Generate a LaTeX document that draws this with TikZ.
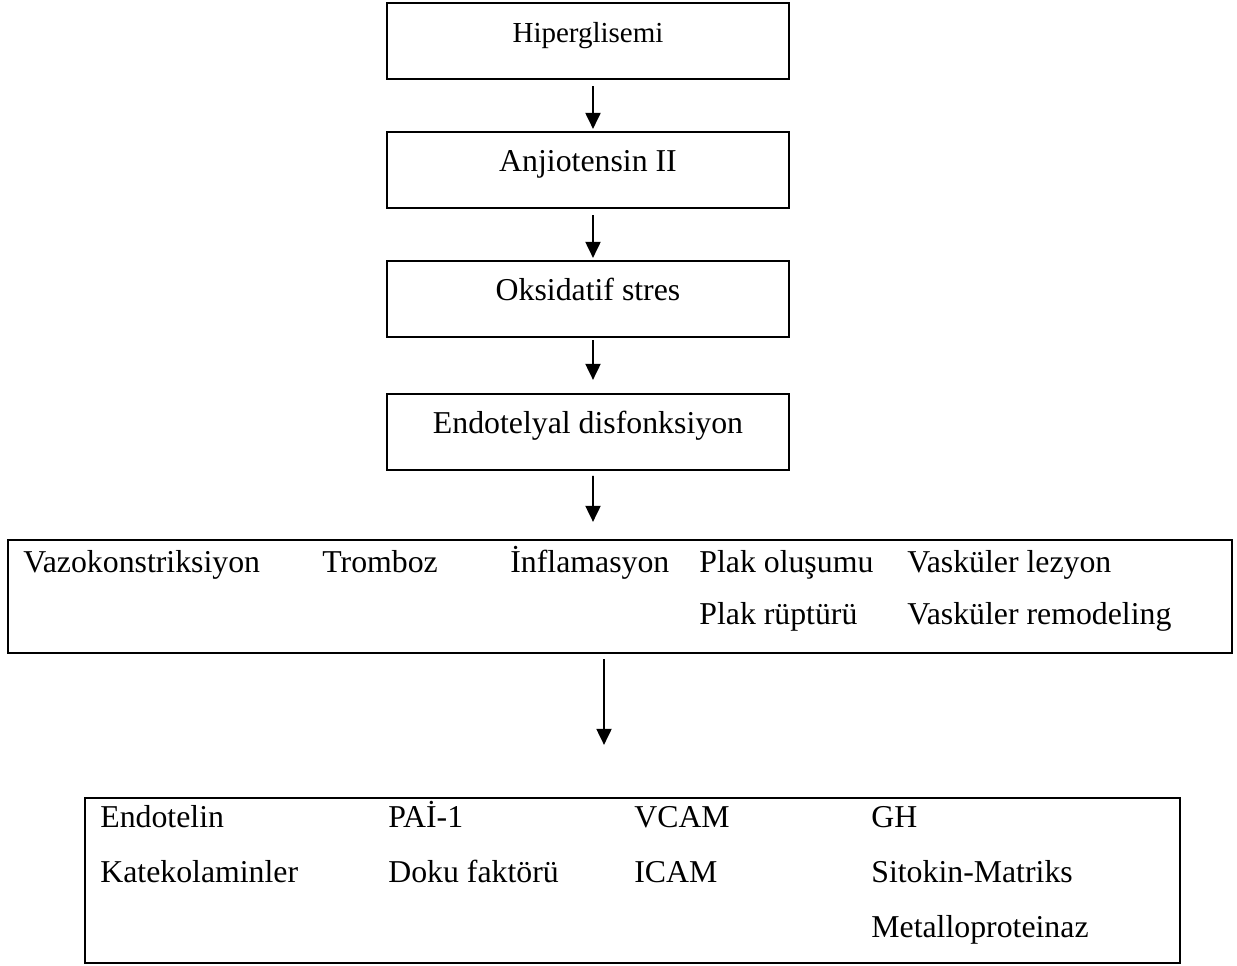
\documentclass[tikz,border=0pt]{standalone}
\usepackage{fontspec}
\setmainfont{Liberation Serif}
\usepackage{tikz}
\usetikzlibrary{shapes.geometric, arrows.meta, positioning}
\tikzstyle{block} = [rectangle, minimum width=8.04cm, minimum height=1.52cm, text height=0.7em, text depth=0.55em, inner sep=2pt, text centered, draw=black, line width=1.2pt, font=\fontsize{18.1}{22}\selectfont]
\tikzstyle{panel} = [rectangle, draw=black, line width=1.3pt, inner sep=0pt]
\tikzstyle{item} = [anchor=base west, inner sep=0pt, font=\fontsize{18.1}{22}\selectfont]
\tikzstyle{arrow} = [line width=1.1pt, -{Triangle[width=0.3cm, length=0.32cm]}]

\begin{document}
\begin{tikzpicture}[x=0.02cm, y=-0.02cm, node distance=2.58cm]
\useasboundingbox (0,0) rectangle (1237,965);
% Ana kutular
\node (hiper) [block, font=\fontsize{16.5}{20}\selectfont] at (588,41) {Hiperglisemi};
\node (anjio) [block, below of=hiper] {Anjiotensin II};
\node (oksi) [block, below of=anjio] {Oksidatif stres};
\node (endo) [block, below of=oksi, yshift=-0.08cm] {Endotelyal disfonksiyon};

% Sonuclar kutusu
\node (etki) [panel, minimum width=24.48cm, minimum height=2.26cm] at (620,596.5) {};
\node (vazo) [item] at (23,572) {Vazokonstriksiyon};
\node (trombo) [item] at (322,572) {Tromboz};
\node (infla) [item] at (510,572) {İnflamasyon};
\node (plak1) [item] at (699,572) {Plak oluşumu};
\node (vask1) [item] at (907,572) {Vasküler lezyon};
\node (plak2) [item] at (699,624) {Plak rüptürü};
\node (vask2) [item] at (907,624) {Vasküler remodeling};

% Belirtecler kutusu
\node (belirtec) [panel, minimum width=21.9cm, minimum height=3.3cm] at (632.5,880.5) {};
\node (endotelin) [item] at (100,827) {Endotelin};
\node (kateko) [item] at (100,882) {Katekolaminler};
\node (pai) [item] at (388,827) {PAİ-1};
\node (doku) [item] at (388,882) {Doku faktörü};
\node (vcam) [item] at (634,827) {VCAM};
\node (icam) [item] at (634,882) {ICAM};
\node (gh) [item] at (871,827) {GH};
\node (sitokin) [item] at (871,882) {Sitokin-Matriks};
\node (metallo) [item] at (871,937) {Metalloproteinaz};

% Oklar
\draw [arrow, shorten <=0.12cm, shorten >=0.04cm] ([xshift=0.1cm]hiper.south) -- ([xshift=0.1cm]anjio.north);
\draw [arrow, shorten <=0.12cm, shorten >=0.04cm] ([xshift=0.1cm]anjio.south) -- ([xshift=0.1cm]oksi.north);
\draw [arrow, shorten <=0.04cm, shorten >=0.26cm] ([xshift=0.1cm]oksi.south) -- ([xshift=0.1cm]endo.north);
\draw [arrow, shorten <=0.1cm, shorten >=0.34cm] ([xshift=0.1cm]endo.south) -- ([xshift=-0.54cm]etki.north);
\draw [arrow, shorten <=0.1cm, shorten >=1.04cm] ([xshift=-0.32cm]etki.south) -- ([xshift=-0.57cm]belirtec.north);

\end{tikzpicture}
\end{document}
